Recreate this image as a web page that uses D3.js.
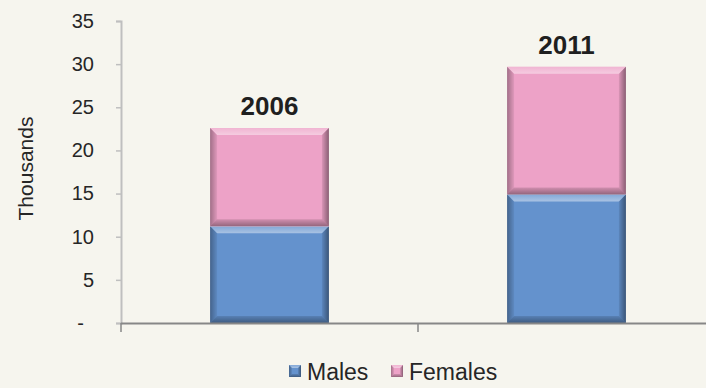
<!DOCTYPE html>
<html>
<head>
<meta charset="utf-8">
<script src="https://cdn.jsdelivr.net/npm/d3@7"></script>
<style>
  html, body { margin: 0; padding: 0; background: #F6F5EE; }
  svg { display: block; font-family: "Liberation Sans", Arial, sans-serif; }
</style>
</head>
<body>
<svg id="chart" width="706" height="388"></svg>
<script>
// Population by sex, census years (thousands)
const years = ["2006", "2011"];
const males = [11.2, 14.9];
const females = [11.4, 14.8];
const seriesNames = ["Males", "Females"];
const yTicks = [0, 5, 10, 15, 20, 25, 30, 35];

const colors = { Males: "#6492CD", Females: "#EDA2C7" };

const svg = d3.select("#chart");
const W = 706, H = 388;
const plot = { left: 121, right: 715, top: 21, bottom: 323 };

svg.append("rect").attr("width", W).attr("height", H).attr("fill", "#F6F5EE");

const x = d3.scaleBand()
  .domain(years)
  .range([plot.left, plot.right])
  .paddingInner(0.6)
  .paddingOuter(0.3);

const y = d3.scaleLinear().domain([0, 35]).range([plot.bottom, plot.top]);

// Gradients for the bevelled edges
const defs = svg.append("defs");
function grad(id, x1, y1, x2, y2, color, o1, o2) {
  const g = defs.append("linearGradient").attr("id", id)
    .attr("x1", x1).attr("y1", y1).attr("x2", x2).attr("y2", y2);
  g.append("stop").attr("offset", "0%").attr("stop-color", color).attr("stop-opacity", o1);
  g.append("stop").attr("offset", "100%").attr("stop-color", color).attr("stop-opacity", o2);
}
grad("bevTop", 0, 0, 0, 1, "#ffffff", 0.2, 0.45);
grad("bevBottom", 0, 0, 0, 1, "#000000", 0.12, 0.38);
grad("bevLeft", 0, 0, 1, 0, "#000000", 0.32, 0.06);
grad("bevRight", 0, 0, 1, 0, "#000000", 0.08, 0.42);

// Stack the two series
const rows = years.map((yr, i) => ({ year: yr, Males: males[i], Females: females[i] }));
const stacked = d3.stack().keys(seriesNames)(rows);

function bevelRect(g, x0, y0, w, h, fill, b) {
  g.append("rect").attr("x", x0).attr("y", y0).attr("width", w).attr("height", h).attr("fill", fill);
  const pts = a => a.map(p => p.join(",")).join(" ");
  g.append("polygon").attr("points", pts([[x0, y0], [x0 + w, y0], [x0 + w - b, y0 + b], [x0 + b, y0 + b]]))
    .attr("fill", "url(#bevTop)");
  g.append("polygon").attr("points", pts([[x0, y0 + h], [x0 + w, y0 + h], [x0 + w - b, y0 + h - b], [x0 + b, y0 + h - b]]))
    .attr("fill", "url(#bevBottom)");
  g.append("polygon").attr("points", pts([[x0, y0], [x0 + b, y0 + b], [x0 + b, y0 + h - b], [x0, y0 + h]]))
    .attr("fill", "url(#bevLeft)");
  g.append("polygon").attr("points", pts([[x0 + w, y0], [x0 + w - b, y0 + b], [x0 + w - b, y0 + h - b], [x0 + w, y0 + h]]))
    .attr("fill", "url(#bevRight)");
}

// Axes
const yAxis = d3.axisLeft(y).tickValues(yTicks).tickSize(5).tickPadding(22)
  .tickFormat(d => d === 0 ? "-" : d3.format("d")(d));
const gy = svg.append("g").attr("transform", `translate(${plot.left},0)`).call(yAxis);
gy.select(".domain").attr("stroke", "#BFBFBF").attr("stroke-width", 2);
gy.selectAll(".tick line").attr("stroke", "#BFBFBF").attr("stroke-width", 1.5);
gy.selectAll(".tick text").attr("font-size", 20).attr("fill", "#262626")
  .attr("font-family", "Liberation Sans, Arial, sans-serif")
  .attr("dx", d => d === 0 ? -10 : 0);

// Bars
const barG = svg.append("g");
stacked.forEach(layer => {
  layer.forEach((d, i) => {
    const x0 = x(years[i]);
    const y0 = y(d[1]);
    const h = y(d[0]) - y(d[1]);
    bevelRect(barG, x0, y0, x.bandwidth(), h, colors[layer.key], 7);
  });
});

// Category axis with boundary ticks
const xBounds = [plot.left, plot.left + x.step(), plot.right];
svg.append("line").attr("x1", plot.left).attr("x2", plot.right)
  .attr("y1", plot.bottom + 0.5).attr("y2", plot.bottom + 0.5)
  .attr("stroke", "#878787").attr("stroke-width", 2);
svg.selectAll(".xtick").data(xBounds).enter().append("line")
  .attr("x1", d => d).attr("x2", d => d)
  .attr("y1", plot.bottom).attr("y2", plot.bottom + 9)
  .attr("stroke", "#878787").attr("stroke-width", 1.5);

// Year labels above each stack
svg.selectAll(".yearLabel").data(rows).enter().append("text")
  .attr("x", d => x(d.year) + x.bandwidth() / 2)
  .attr("y", d => y(d.Males + d.Females) - 13)
  .attr("text-anchor", "middle")
  .attr("font-size", 26).attr("font-weight", "bold").attr("fill", "#1F1F1F")
  .text(d => d.year);

// Axis title
svg.append("text")
  .attr("transform", `translate(33,168.5) rotate(-90)`)
  .attr("text-anchor", "middle")
  .attr("font-size", 21).attr("fill", "#262626")
  .text("Thousands");

// Legend
const legend = svg.append("g");
const legendItems = [
  { name: "Males", x: 289 },
  { name: "Females", x: 391 }
];
legendItems.forEach(it => {
  const g = legend.append("g");
  bevelRect(g, it.x, 365, 12, 12, colors[it.name], 3);
  g.append("text").attr("x", it.x + 18).attr("y", 380)
    .attr("font-size", 23).attr("fill", "#262626").text(it.name);
});
</script>
</body>
</html>
